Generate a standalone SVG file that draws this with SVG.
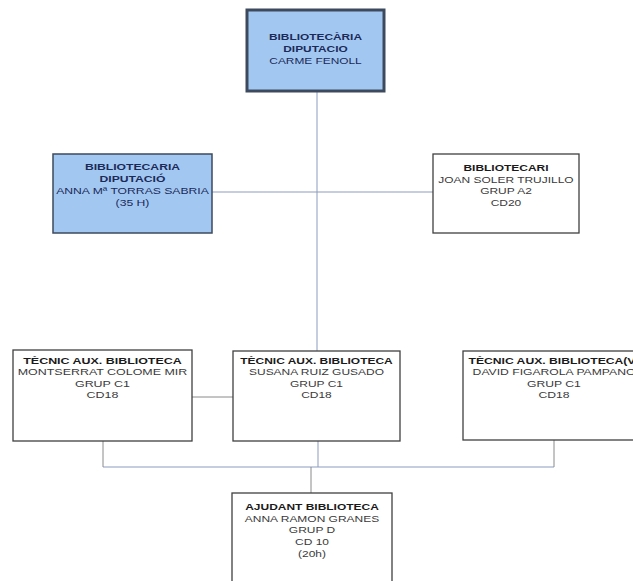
<svg xmlns="http://www.w3.org/2000/svg" width="633" height="581" viewBox="0 0 633 581">
<style>
  text { font-family: "Liberation Sans", Arial, sans-serif; font-size: 9.5px; text-anchor: middle; }
  .b { font-weight: bold; }
  .blue text { fill: #1c2a58; }
  .white text { fill: #3a3a3a; }
  .white text.b { fill: #1a1a1a; }
  .boxb { fill: #a2c8f2; stroke: #3d4a5e; stroke-width: 1.5; }
  .boxw { fill: #ffffff; stroke: #404040; stroke-width: 1.3; }
  .c1 { stroke: #8c9bbd; stroke-width: 1; fill: none; }
  .c2 { stroke: #8a8a8a; stroke-width: 1; fill: none; }
</style>
<rect width="633" height="581" fill="#ffffff"/>
<g id="connectors">
  <line class="c1" x1="317" y1="91" x2="317" y2="351"/>
  <line class="c1" x1="212" y1="192" x2="433" y2="192"/>
  <line class="c2" x1="192" y1="397" x2="233" y2="397"/>
  <line class="c1" x1="103" y1="467" x2="554" y2="467"/>
  <line class="c2" x1="103" y1="441" x2="103" y2="467"/>
  <line class="c2" x1="554" y1="440" x2="554" y2="467"/>
  <line class="c1" x1="318" y1="441" x2="318" y2="467"/>
  <line class="c2" x1="311" y1="467" x2="311" y2="493"/>
</g>
<g id="n1" class="blue">
  <rect class="boxb" x="247" y="10" width="137" height="81" style="stroke-width:3"/>
  <g transform="translate(315.5,0) scale(1.25,1) translate(-315.5,0)">
    <text class="b" x="315.5" y="40.5">BIBLIOTECÀRIA</text>
    <text class="b" x="315.5" y="52.5">DIPUTACIO</text>
    <text x="315.5" y="64.5">CARME FENOLL</text>
  </g>
</g>
<g id="n2" class="blue">
  <rect class="boxb" x="53" y="154" width="159" height="79"/>
  <g transform="translate(132.5,0) scale(1.28,1) translate(-132.5,0)">
    <text class="b" x="132.5" y="170.5">BIBLIOTECARIA</text>
    <text class="b" x="132.5" y="182.5">DIPUTACIÓ</text>
    <text x="132.5" y="194.5">ANNA Mª TORRAS SABRIA</text>
    <text x="132.5" y="206.5">(35 H)</text>
  </g>
</g>
<g id="n3" class="white">
  <rect class="boxw" x="433" y="154" width="146" height="79"/>
  <g transform="translate(506,0) scale(1.26,1) translate(-506,0)">
    <text class="b" x="506" y="171.5">BIBLIOTECARI</text>
    <text x="506" y="183">JOAN SOLER TRUJILLO</text>
    <text x="506" y="194.5">GRUP A2</text>
    <text x="506" y="206">CD20</text>
  </g>
</g>
<g id="n4" class="white">
  <rect class="boxw" x="13" y="350" width="179" height="91"/>
  <g transform="translate(102.5,0) scale(1.31,1) translate(-102.5,0)">
    <text class="b" x="102.5" y="364">TÈCNIC AUX. BIBLIOTECA</text>
    <text x="102.5" y="375.5">MONTSERRAT COLOME MIR</text>
    <text x="102.5" y="387">GRUP C1</text>
    <text x="102.5" y="398.5">CD18</text>
  </g>
</g>
<g id="n5" class="white">
  <rect class="boxw" x="233" y="351" width="167" height="90"/>
  <g transform="translate(316.5,0) scale(1.26,1) translate(-316.5,0)">
    <text class="b" x="316.5" y="364">TÈCNIC AUX. BIBLIOTECA</text>
    <text x="316.5" y="375.5">SUSANA RUIZ GUSADO</text>
    <text x="316.5" y="387">GRUP C1</text>
    <text x="316.5" y="398.5">CD18</text>
  </g>
</g>
<g id="n6" class="white">
  <rect class="boxw" x="463" y="351" width="182" height="89"/>
  <g transform="translate(554,0) scale(1.28,1) translate(-554,0)">
    <text class="b" x="554" y="364">TÈCNIC AUX. BIBLIOTECA(V)</text>
    <text x="554" y="375.5">DAVID FIGAROLA PAMPANO</text>
    <text x="554" y="387">GRUP C1</text>
    <text x="554" y="398.5">CD18</text>
  </g>
</g>
<g id="n7" class="white">
  <rect class="boxw" x="232" y="493" width="160" height="100"/>
  <g transform="translate(312,0) scale(1.26,1) translate(-312,0)">
    <text class="b" x="312" y="510.5">AJUDANT BIBLIOTECA</text>
    <text x="312" y="522">ANNA RAMON GRANES</text>
    <text x="312" y="533.5">GRUP D</text>
    <text x="312" y="545">CD 10</text>
    <text x="312" y="557">(20h)</text>
  </g>
</g>
</svg>
